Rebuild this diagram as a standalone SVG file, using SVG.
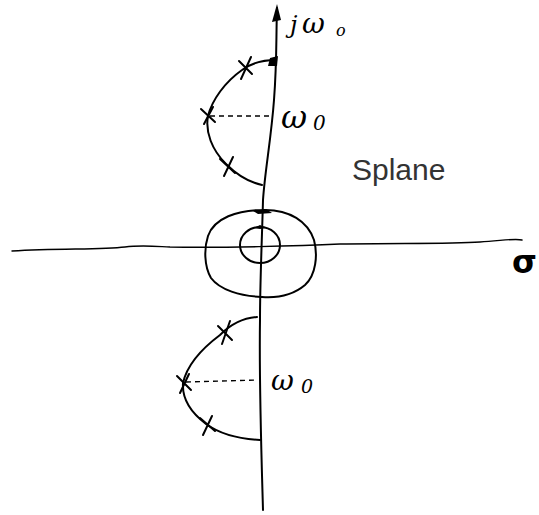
<svg xmlns="http://www.w3.org/2000/svg" width="539" height="515" viewBox="0 0 539 515">
<style>
.ink{fill:none;stroke:#000;stroke-width:2;stroke-linecap:round;stroke-linejoin:round}
.thin{fill:none;stroke:#000;stroke-width:1.4;stroke-linecap:round}
.x{fill:none;stroke:#000;stroke-width:2;stroke-linecap:round}
.dash{fill:none;stroke:#000;stroke-width:1.3;stroke-dasharray:5 4}
.hand{font-family:"DejaVu Serif","Liberation Serif",serif;font-style:italic;fill:#000}
.lbl{font-family:"Liberation Sans",Arial,sans-serif;fill:#333;font-size:30px}
</style>
<rect width="539" height="515" fill="#fff"/>
<!-- axes -->
<path class="ink" d="M277,8 C276,40 277,60 274,100 C271,140 265,170 263,200 C262,240 260,280 260,320 C259,380 261,440 263,510"/>
<path d="M272,22 L277,4 L281,20 Z" fill="#000"/>
<path class="thin" d="M12,251 C60,248 100,250 125,247 C140,245 150,246 170,247 C220,248 300,246 340,244 C400,243 450,244 480,242 C500,241 515,238 522,240"/>
<!-- upper arc -->
<path class="ink" d="M276,60 C262,60 250,64 242,70 C225,82 212,100 208,116 C205,132 212,150 226,164 C236,174 248,182 262,185"/>
<path d="M270,58 L278,56 L277,66 L268,66 Z" fill="#000"/>
<path class="dash" d="M210,116 L272,116"/>
<g class="x">
<path d="M239,61 L252,74 M251,57 L241,79"/>
<path d="M201,109 L215,122 M213,107 L204,124"/>
<path d="M220,159 L235,173 M233,157 L224,176"/>
</g>
<!-- circles -->
<path class="ink" stroke-width="1.6" d="M262,210 C290,209 308,222 314,240 C318,255 316,275 305,285 C292,296 276,298 262,297 C240,296 220,290 211,278 C204,266 204,248 208,236 C214,218 238,210 262,210 Z"/>
<ellipse cx="260" cy="245" rx="20" ry="18" class="ink" stroke-width="1.6"/>
<path d="M253,211 L266,209 L272,213 L258,214 Z" fill="#000"/>
<path d="M254,228 L260,225 L266,228 L260,229 Z" fill="#000"/>
<!-- lower arc -->
<path class="ink" d="M257,317 C243,318 230,325 220,335 C200,350 187,365 183,383 C182,398 190,412 206,424 C220,434 240,439 260,440"/>
<path class="dash" d="M186,382 L258,380"/>
<g class="x">
<path d="M218,326 L232,340 M230,321 L222,344"/>
<path d="M177,376 L191,390 M189,374 L180,393"/>
<path d="M200,418 L215,431 M212,416 L203,435"/>
</g>
<!-- labels -->
<text class="hand" x="290" y="33" font-size="24">j</text>
<text class="hand" x="302" y="33" font-size="28">ω</text>
<text class="hand" x="336" y="36" font-size="16">o</text>
<text class="hand" x="281" y="128" font-size="32">ω</text>
<text class="hand" x="313" y="130" font-size="20">0</text>
<text class="hand" x="271" y="390" font-size="28">ω</text>
<text class="hand" x="301" y="393" font-size="19">0</text>
<text class="lbl" x="352" y="180">Splane</text>
<text x="512" y="273" font-family="DejaVu Sans,sans-serif" font-weight="bold" font-size="32" fill="#000">σ</text>
</svg>
